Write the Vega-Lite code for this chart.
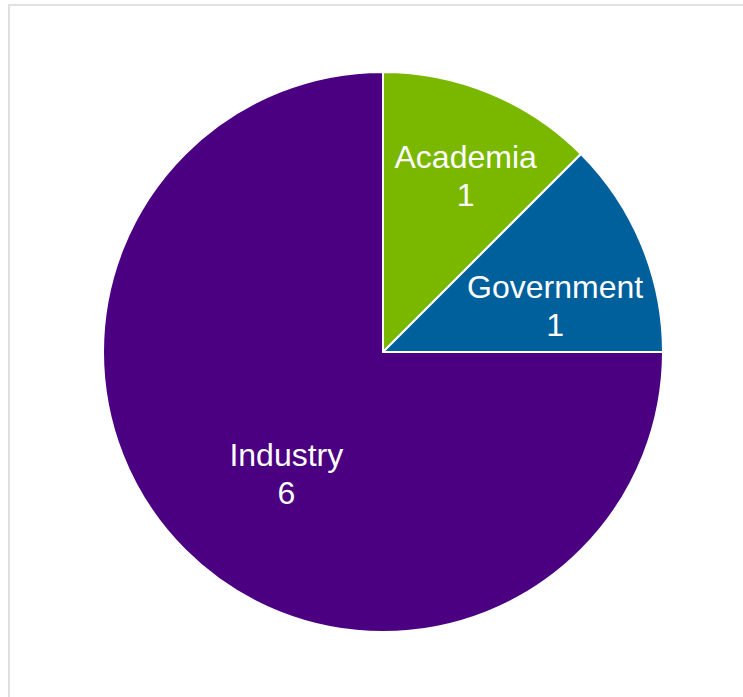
{
  "$schema": "https://vega.github.io/schema/vega-lite/v6.json",
  "width": 748,
  "height": 694,
  "autosize": "none",
  "padding": {"left": 9, "top": 5, "right": 0, "bottom": 0},
  "background": "white",
  "view": {"stroke": "#e0e0e0", "strokeWidth": 2},
  "data": {"values": [
    {"category": "Academia", "count": 1},
    {"category": "Government", "count": 1},
    {"category": "Industry", "count": 6}
  ]},
  "encoding": {
    "theta": {"field": "count", "type": "quantitative", "stack": true},
    "order": {"field": "category", "type": "nominal"}
  },
  "layer": [
    {
      "mark": {"type": "arc", "radius": 280, "stroke": "white", "strokeWidth": 2},
      "encoding": {
        "color": {"field": "category", "type": "nominal",
          "scale": {"domain": ["Academia", "Government", "Industry"], "range": ["#7ab800", "#00609c", "#4b0082"]},
          "legend": null}
      }
    },
    {"mark": {"type": "text", "radius": 182, "dx": 13, "dy": -26, "fill": "white", "font": "Liberation Sans", "fontSize": 32},
     "encoding": {"text": {"condition": {"test": "datum.category === 'Academia'", "field": "category"}, "value": ""}}},
    {"mark": {"type": "text", "radius": 182, "dx": 13, "dy": 12, "fill": "white", "font": "Liberation Sans", "fontSize": 32},
     "encoding": {"text": {"condition": {"test": "datum.category === 'Academia'", "field": "count"}, "value": ""}}},
    {"mark": {"type": "text", "radius": 182, "dx": 4, "dy": 6, "fill": "white", "font": "Liberation Sans", "fontSize": 32},
     "encoding": {"text": {"condition": {"test": "datum.category === 'Government'", "field": "category"}, "value": ""}}},
    {"mark": {"type": "text", "radius": 182, "dx": 4, "dy": 44, "fill": "white", "font": "Liberation Sans", "fontSize": 32},
     "encoding": {"text": {"condition": {"test": "datum.category === 'Government'", "field": "count"}, "value": ""}}},
    {"mark": {"type": "text", "radius": 182, "dx": 32, "dy": -25, "fill": "white", "font": "Liberation Sans", "fontSize": 32},
     "encoding": {"text": {"condition": {"test": "datum.category === 'Industry'", "field": "category"}, "value": ""}}},
    {"mark": {"type": "text", "radius": 182, "dx": 32, "dy": 13, "fill": "white", "font": "Liberation Sans", "fontSize": 32},
     "encoding": {"text": {"condition": {"test": "datum.category === 'Industry'", "field": "count"}, "value": ""}}}
  ]
}
